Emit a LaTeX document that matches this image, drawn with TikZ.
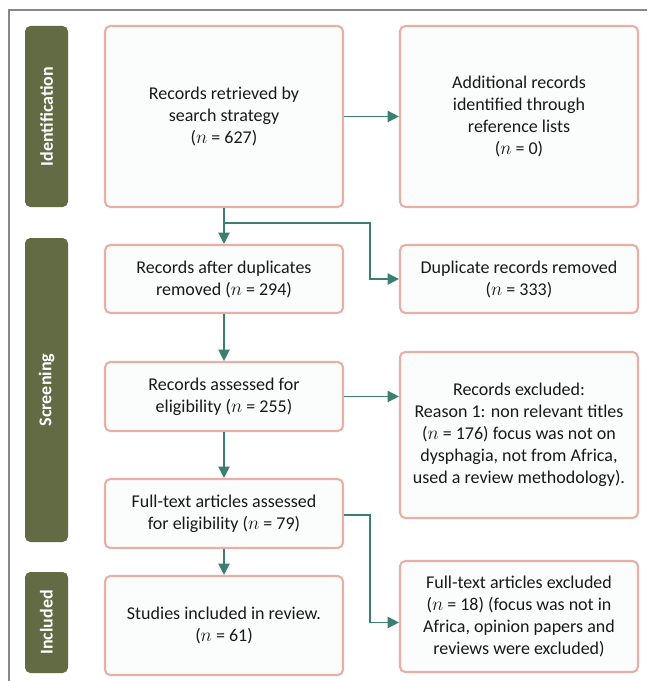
\documentclass[tikz,border=0pt]{standalone}
\usepackage{fontspec}
\setmainfont{Carlito}
\usetikzlibrary{arrows.meta}
\definecolor{boxpink}{HTML}{E8AFA6}
\definecolor{boxfill}{HTML}{FBFDFD}
\definecolor{tabolive}{HTML}{636B45}
\definecolor{flowteal}{HTML}{3B7F70}
\definecolor{framegray}{HTML}{888888}

\begin{document}
\begin{tikzpicture}[x=0.75pt, y=-0.75pt,
			every node/.style = {align=center, inner sep=0pt, text=black!90,
				font=\fontsize{13.5}{16.5}\selectfont},
			box/.style = {shape=rectangle, rounded corners=4pt, draw=boxpink,
				line width=1.6pt, fill=boxfill, minimum width=178.5pt},
			tab/.style = {shape=rectangle, rounded corners=4pt, fill=tabolive,
				text=white, rotate=90, minimum height=32.25pt,
				font=\bfseries\fontsize{13.5}{16}\selectfont}]
			\tikzset{flow/.style = {draw=flowteal, line width=1pt, -{Triangle[length=8.5pt,width=8.5pt]}}}
			\useasboundingbox (0,0) rectangle (647,681);
			\draw[framegray, line width=0.9pt] (9,681) -- (9,10) -- (647,10);
			\node[tab, minimum width=135.75pt] (tid) at (46.5,116.5) {Identification};
			\node[tab, minimum width=228pt] (tscr) at (46.5,390) {Screening};
			\node[tab, minimum width=75.75pt] (tinc) at (46.5,622.5) {Included};
			\node[box, minimum height=135.75pt] (b1) at (224,116.5) {Records retrieved by\\search strategy\\($n$ = 627)};
			\node[box, minimum height=135.75pt] (r1) at (519,116.5) {Additional records\\identified through\\reference lists\\($n$ = 0)};
			\node[box, minimum height=51pt] (b2) at (224,279) {Records after duplicates\\removed ($n$ = 294)};
			\node[box, minimum height=51pt] (r2) at (519,279) {Duplicate records removed\\($n$ = 333)};
			\node[box, minimum height=51.75pt] (b3) at (224,396.5) {Records assessed for\\eligibility ($n$ = 255)};
			\node[box, minimum height=124.5pt] (r3) at (519,435) {Records excluded:\\Reason 1: non relevant titles\\($n$ = 176) focus was not on\\dysphagia, not from Africa,\\used a review methodology).};
			\node[box, minimum height=51.75pt] (b4) at (224,513.5) {Full-text articles assessed\\for eligibility ($n$ = 79)};
			\node[box, minimum height=74.25pt] (b5) at (224,625.5) {Studies included in review.\\($n$ = 61)};
			\node[box, minimum height=83.25pt] (r4) at (519,616.5) {Full-text articles excluded\\($n$ = 18) (focus was not in\\Africa, opinion papers and\\reviews were excluded)};
			\coordinate (k1) at (370,223);
			\coordinate (k2) at (370,515);
			\draw[flow] (b1.east) -- (r1.west);
			\draw[flow] (b1.south) -- (b2.north);
			\draw[flow] (b1.south) |- (k1) |- (r2.west);
			\draw[flow] (b2.south) -- (b3.north);
			\draw[flow] (b3.east) -- (b3.east -| r3.west);
			\draw[flow] (b3.south) -- (b4.north);
			\draw[flow] (b4.east |- k2) -- (k2) |- ([yshift=-4.5pt]r4.west);
			\draw[flow] (b4.south) -- (b5.north);
		\end{tikzpicture}
\end{document}
